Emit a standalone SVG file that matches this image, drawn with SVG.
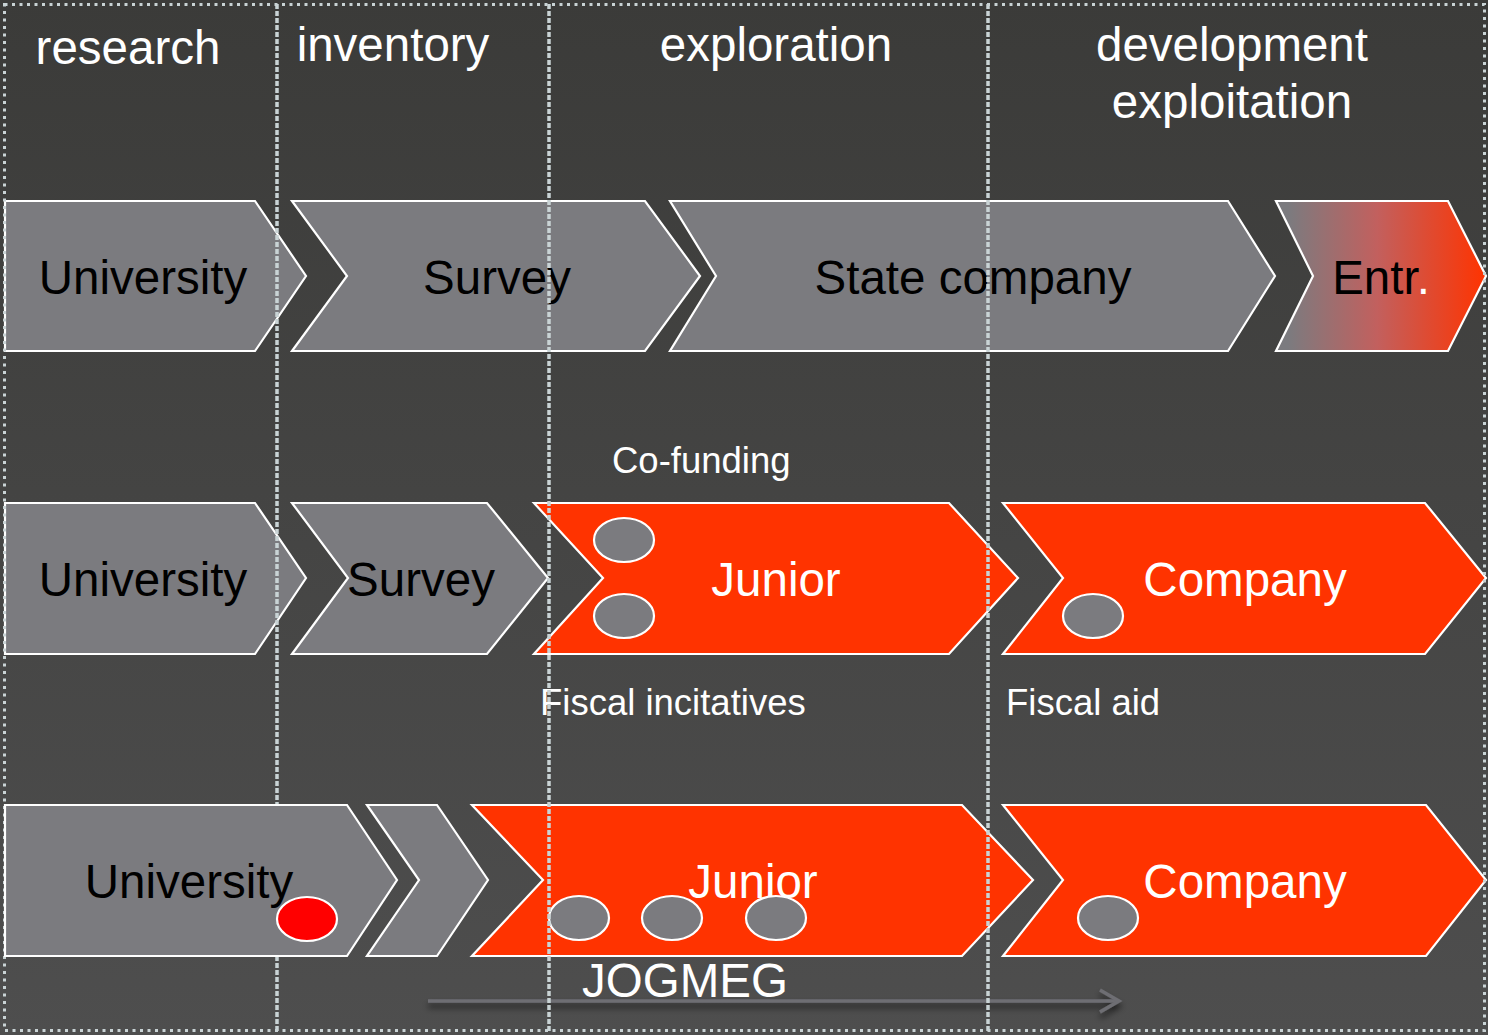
<svg xmlns="http://www.w3.org/2000/svg" width="1488" height="1035" viewBox="0 0 1488 1035">
<defs>
<linearGradient id="bg" x1="0" y1="0" x2="0" y2="1">
<stop offset="0" stop-color="#3b3b39"/>
<stop offset="1" stop-color="#4e4e4e"/>
</linearGradient>
<linearGradient id="entr" gradientUnits="userSpaceOnUse" x1="1288" y1="0" x2="1486" y2="0">
<stop offset="0" stop-color="#7b7b7f"/>
<stop offset="0.45" stop-color="#c2605e"/>
<stop offset="1" stop-color="#ff3300"/>
</linearGradient>
<filter id="shadow" filterUnits="userSpaceOnUse" x="400" y="975" width="760" height="55">
<feDropShadow dx="0" dy="5" stdDeviation="3" flood-color="#000" flood-opacity="0.6"/>
</filter>
</defs>
<style>
.g{fill:#7b7b7f;stroke:#fff;stroke-width:2.2}
.r{fill:#ff3300;stroke:#fff;stroke-width:2.2}
.c{fill:#7b7b7f;stroke:#fff;stroke-width:2.2}
.t{font-family:"Liberation Sans",Arial,sans-serif;font-size:47.5px;text-anchor:middle}
.k{fill:#000}
.w{fill:#fff}
.s{font-family:"Liberation Sans",Arial,sans-serif;font-size:36.5px;fill:#fff}
.div{stroke:#c9d3d5;stroke-width:3.5;stroke-dasharray:5 2;fill:none}
.brd{stroke:#c9d3d5;stroke-width:3;stroke-dasharray:3 4.5;fill:none}
.arr{stroke:#6e6e73;stroke-width:3.5;fill:none}
</style>
<rect x="0" y="0" width="1488" height="1035" fill="url(#bg)"/>

<g id="headers">
<text class="t w" x="128" y="64">research</text>
<text class="t w" x="393" y="61">inventory</text>
<text class="t w" x="776" y="61">exploration</text>
<text class="t w" x="1232" y="61">development</text>
<text class="t w" x="1232" y="118">exploitation</text>
</g>

<!-- Row 1 -->
<g id="r1-university">
<path class="g" d="M5,201 H255 L306,276 L255,351 H5 Z"/>
<text class="t k" x="143" y="294">University</text>
</g>
<g id="r1-survey">
<path class="g" d="M292,201 H645 L700,276 L645,351 H292 L347,276 Z"/>
<text class="t k" x="497" y="294">Survey</text>
</g>
<g id="r1-state">
<path class="g" d="M670,201 H1228 L1275,276 L1228,351 H670 L716,276 Z"/>
<text class="t k" x="973" y="294">State company</text>
</g>
<g id="r1-entr">
<path fill="url(#entr)" stroke="#fff" stroke-width="2.2" d="M1276,201 H1448 L1486,276 L1448,351 H1276 L1313,276 Z"/>
<text class="t" x="1381" y="294"><tspan class="k">Entr</tspan><tspan class="w">.</tspan></text>
</g>

<!-- Row 2 -->
<g id="r2-university">
<path class="g" d="M5,503 H255 L306,578 L255,654 H5 Z"/>
<text class="t k" x="143" y="596">University</text>
</g>
<g id="r2-survey">
<path class="g" d="M292,503 H487 L548,578 L487,654 H292 L348,578 Z"/>
<text class="t k" x="421" y="596">Survey</text>
</g>
<g id="r2-junior">
<path class="r" d="M534,503 H949 L1018,578 L949,654 H534 L603,578 Z"/>
<ellipse class="c" cx="624" cy="540" rx="30" ry="22"/>
<ellipse class="c" cx="624" cy="616" rx="30" ry="22"/>
<text class="t w" x="776" y="596">Junior</text>
</g>
<g id="r2-company">
<path class="r" d="M1003,503 H1425 L1486,578 L1425,654 H1003 L1063,578 Z"/>
<ellipse class="c" cx="1093" cy="616" rx="30" ry="22"/>
<text class="t w" x="1245" y="596">Company</text>
</g>
<g id="label-cofunding"><text class="s" x="612" y="473">Co-funding</text></g>
<g id="label-fiscal-inc"><text class="s" x="540" y="715">Fiscal incitatives</text></g>
<g id="label-fiscal-aid"><text class="s" x="1006" y="715">Fiscal aid</text></g>

<!-- Row 3 -->
<g id="r3-step">
<path class="g" d="M367,805 H437 L488,880 L437,956 H367 L419,880 Z"/>
</g>
<g id="r3-junior">
<path class="r" d="M472,805 H962 L1033,880 L962,956 H472 L543,880 Z"/>
<text class="t w" x="753" y="898">Junior</text>
<ellipse class="c" cx="579" cy="918" rx="30" ry="22"/>
<ellipse class="c" cx="672" cy="918" rx="30" ry="22"/>
<ellipse class="c" cx="776" cy="918" rx="30" ry="22"/>
</g>
<g id="r3-company">
<path class="r" d="M1003,805 H1426 L1486,880 L1426,956 H1003 L1063,880 Z"/>
<ellipse class="c" cx="1108" cy="918" rx="30" ry="22"/>
<text class="t w" x="1245" y="898">Company</text>
</g>

<g id="connectors">
<g filter="url(#shadow)">
<path class="arr" d="M428,1001 H1119"/>
<path class="arr" d="M1100,990 L1119,1001 L1100,1012"/>
</g>
</g>
<g id="label-jogmeg"><text class="t w" x="685" y="997">JOGMEG</text></g>

<g id="dividers">
<rect class="brd" x="4.5" y="4.5" width="1480" height="1026"/>
<line class="div" x1="277" y1="4" x2="277" y2="1031"/>
<line class="div" x1="549" y1="4" x2="549" y2="1031"/>
<line class="div" x1="988" y1="4" x2="988" y2="1031"/>
</g>

<g id="r3-university">
<path class="g" d="M5,805 H347 L397,880 L347,956 H5 Z"/>
<text class="t k" x="189" y="898">University</text>
<ellipse cx="307" cy="919" rx="30" ry="22" fill="#ff0000" stroke="#fff" stroke-width="2.2"/>
</g>
</svg>
